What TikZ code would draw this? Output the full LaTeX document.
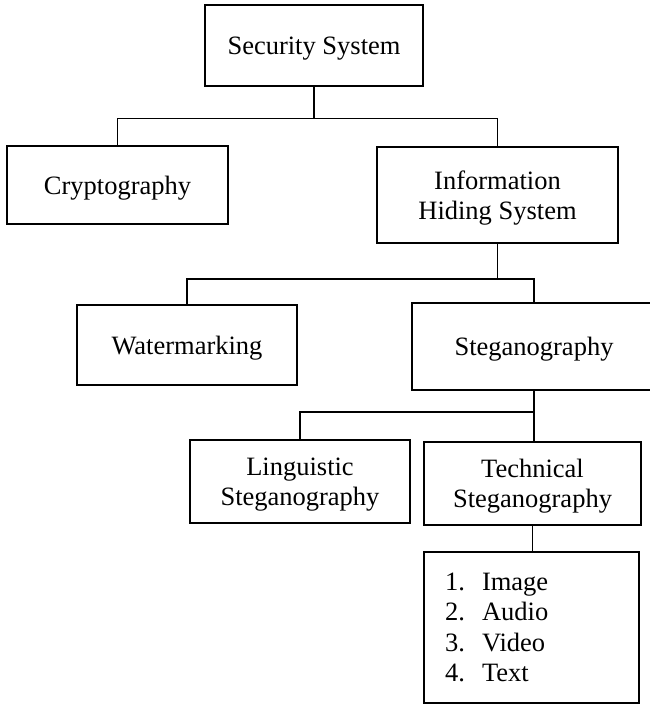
\documentclass[tikz,border=0pt]{standalone}
\usepackage{fontspec}
\setmainfont{Liberation Serif}
\tikzset{
  box/.style={draw,line width=2.2pt,inner sep=0pt,outer sep=0pt,align=center,text depth=0pt,font=\fontsize{26.5}{30}\selectfont},
  conn/.style={line width=1.5pt}
}
\begin{document}
\begin{tikzpicture}[x=1pt,y=-1pt]
			\useasboundingbox (0,0) rectangle (649,706);
			\node[box,minimum width=218pt,minimum height=81pt] (sec) at (314,45.5) {Security System};
			\node[box,minimum width=221pt,minimum height=78pt] (crypto) at (117.5,185) {Cryptography};
			\node[box,minimum width=241pt,minimum height=96pt] (info) at (497.5,195) {Information\\Hiding System};
			\node[box,minimum width=220pt,minimum height=80pt] (water) at (187,345) {Watermarking};
			\node[box,minimum width=244pt,minimum height=87pt] (stega) at (534,346.5) {Steganography};
			\node[box,minimum width=220pt,minimum height=83pt] (ling) at (300,481.5) {Linguistic\\Steganography};
			\node[box,minimum width=217pt,minimum height=83pt] (tech) at (532.5,483.5) {Technical\\Steganography};
			\node[box,minimum width=215pt,minimum height=151pt,text width=173pt,align=left,text depth={},font=\fontsize{26.5}{30.5}\selectfont] (list) at (531.5,627.5)
				{\makebox[37pt][l]{1.}Image\\\makebox[37pt][l]{2.}Audio\\\makebox[37pt][l]{3.}Video\\\makebox[37pt][l]{4.}Text};
			\draw[conn] (sec.south) -- ++(0,32.5) coordinate (j1);
			\draw[conn] (crypto.north) |- (j1) -| (info.north);
			\draw[conn] (info.south) -- ++(0,36) coordinate (j2);
			\draw[conn] (water.north) |- (j2) -| (stega.north);
			\path (stega.south) ++(0,22) coordinate (j3);
			\draw[conn] (stega.south) -- (stega.south |- tech.north);
			\draw[conn] (ling.north) |- (j3);
			\draw[conn] (tech.south) -- (tech.south |- list.north);
\end{tikzpicture}
\end{document}
